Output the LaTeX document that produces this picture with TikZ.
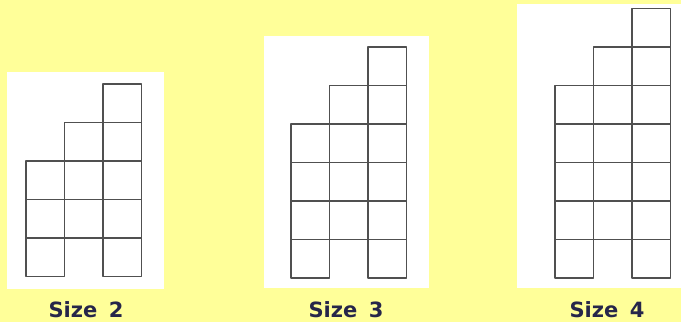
\documentclass[tikz,border=0pt]{standalone}
\usepackage{fontspec}
\setmainfont{DejaVu Sans}
\definecolor{bgyellow}{HTML}{FFFF99}
\definecolor{labelnavy}{HTML}{26264A}
\definecolor{gridgray}{HTML}{505050}
\newcommand{\drawtower}[3]{% #1 = left x, #2 = bottom y, #3 = size n
  \pgfmathtruncatemacro{\na}{#3}
  \pgfmathtruncatemacro{\nb}{#3+1}
  \pgfmathtruncatemacro{\nc}{#3+2}
  \foreach \k in {0,...,\na} {\draw[cellline] (#1,#2-\k*38.5) rectangle ++(38.5,-38.5);}
  \foreach \k in {1,...,\nb} {\draw[cellline] (#1+38.5,#2-\k*38.5) rectangle ++(38.5,-38.5);}
  \foreach \k in {0,...,\nc} {\draw[cellline] (#1+77,#2-\k*38.5) rectangle ++(38.5,-38.5);}
}
\begin{document}
\begin{tikzpicture}[x=1pt,y=-1pt,
  panel/.style={fill=white,draw=none},
  cellline/.style={draw=gridgray,line width=1.8pt,line join=round},
  sizelabel/.style={font=\fontsize{21}{24}\selectfont\bfseries,text=labelnavy,anchor=base,inner sep=0pt}]
  \fill[bgyellow] (0,0) rectangle (681,322);
  \useasboundingbox (0,0) rectangle (681,322);
  % panels
  \fill[panel] (7,72) rectangle (164,289);
  \fill[panel] (264,36) rectangle (429,288);
  \fill[panel] (517,4) rectangle (681,288);
  % towers
  \drawtower{26}{276.5}{2}
  \drawtower{291}{278}{3}
  \drawtower{555}{278}{4}
  % labels
  \node[sizelabel] (l2) at (86,317) {Size\hspace{0.2em} 2};
  \node[sizelabel] (l3) at (346,317) {Size\hspace{0.2em} 3};
  \node[sizelabel] (l4) at (607,317) {Size\hspace{0.2em} 4};
\end{tikzpicture}
\end{document}
